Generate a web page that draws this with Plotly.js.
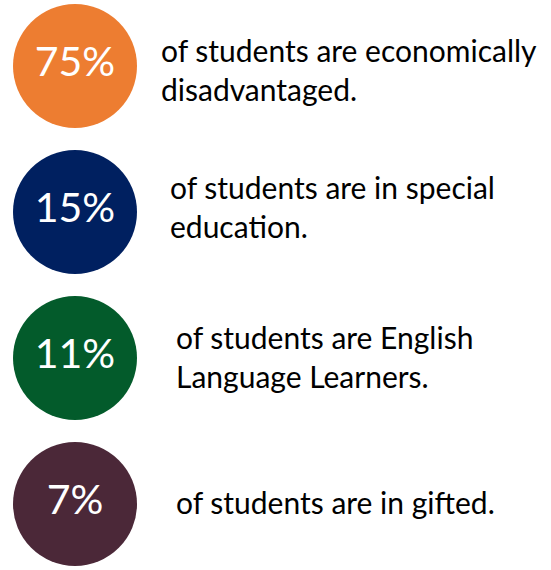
<!DOCTYPE html>
<html>
<head>
<meta charset="utf-8">
<script src="https://cdn.plot.ly/plotly-3.0.1.min.js"></script>
<style>html,body{margin:0;padding:0;background:#fff;}#chart{width:551px;height:570px;}</style>
</head>
<body>
<div id="chart"></div>
<script>
// Data
var percents = [75, 15, 11, 7];
var descriptions = [
  "of students are economically<br>disadvantaged.",
  "of students are in special<br>education.",
  "of students are English<br>Language Learners.",
  "of students are in gifted."
];
var colors = ["#ED7D31", "#002060", "#035B2B", "#4B2838"];

// Layout settings (not data)
var rowIndex = percents.map(function (_, i) { return i; });
var rowPitch = 146;                 // px between rows
var textIndent = [86, 95, 101, 101]; // px right of circle centre
var textShift = [8, -1, 3, 2];       // px vertical nudge of the description
var circleDiameter = 124;

var labels = percents.map(function (p) { return p + "%"; });

var circles = {
  type: "scatter",
  mode: "markers+text",
  x: rowIndex.map(function () { return 0; }),
  y: rowIndex,
  marker: { size: circleDiameter, color: colors, line: { width: 0 } },
  text: labels,
  textposition: "middle center",
  textfont: { family: "Lato, 'Open Sans', sans-serif", size: 41, color: "#ffffff" },
  hoverinfo: "skip",
  cliponaxis: false
};

var texts = {
  type: "scatter",
  mode: "text",
  x: textIndent,
  y: rowIndex.map(function (i) { return i + textShift[i] / rowPitch; }),
  text: descriptions,
  textposition: "middle right",
  textfont: { family: "Lato, 'Open Sans', sans-serif", size: 30, color: "#000000" },
  hoverinfo: "skip",
  cliponaxis: false
};

var layout = {
  width: 551,
  height: 570,
  margin: { l: 0, r: 0, t: 0, b: 0, pad: 0 },
  paper_bgcolor: "#ffffff",
  plot_bgcolor: "#ffffff",
  showlegend: false,
  xaxis: { range: [-75, 476], visible: false, fixedrange: true },
  yaxis: { range: [3.452, -0.452], visible: false, fixedrange: true }
};

Plotly.newPlot("chart", [circles, texts], layout, { displayModeBar: false, staticPlot: true });
</script>
</body>
</html>
